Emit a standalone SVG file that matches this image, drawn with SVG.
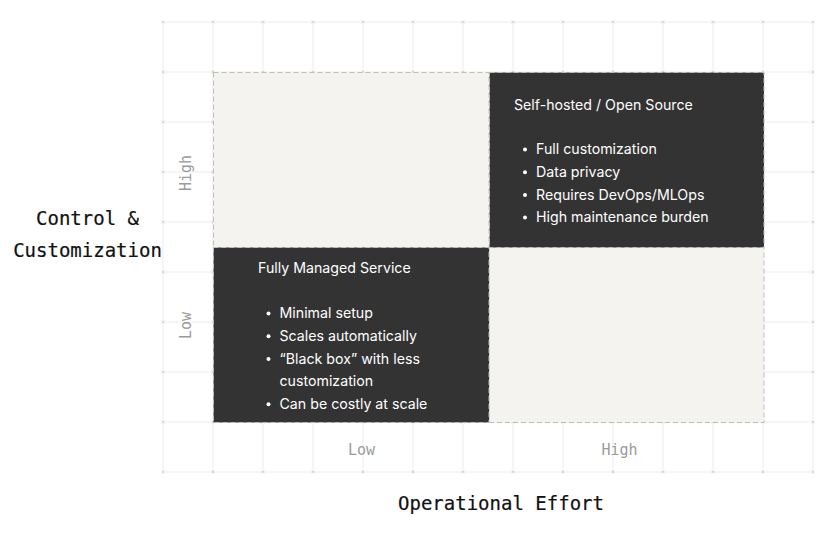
<svg xmlns="http://www.w3.org/2000/svg" width="826" height="542" viewBox="0 0 826 542">
<defs>
<style>
.grid line{stroke:#ececec;stroke-width:1}
.tick{stroke:#cccccc;stroke-width:0.7}
.light{fill:#f4f3ef;stroke:#bdbdbd;stroke-width:1;stroke-dasharray:5 3}
.dark{fill:#333333;stroke:#bdbdbd;stroke-width:1;stroke-dasharray:5 3}
.title{font-family:Inter,"Noto Sans",sans-serif;font-size:14.2px;fill:#ffffff}
.item{font-family:Inter,"Noto Sans",sans-serif;font-size:14.2px;fill:#ffffff}
.axis{font-family:"DejaVu Sans Mono","Liberation Mono",monospace;font-size:19px;fill:#111111;text-anchor:middle;stroke:#111111;stroke-width:0.2}
.lvl{font-family:"DejaVu Sans Mono","Liberation Mono",monospace;font-size:15px;fill:#9a9a9a;text-anchor:middle}
</style>
<g id="x"><path d="M-1.5,-1.5L1.5,1.5M-1.5,1.5L1.5,-1.5" class="tick"/></g>
</defs>
<rect width="826" height="542" fill="#ffffff"/>
<g class="grid">
<line x1="163" y1="22" x2="163" y2="472"/><line x1="213" y1="22" x2="213" y2="472"/>
<line x1="263" y1="22" x2="263" y2="472"/><line x1="313" y1="22" x2="313" y2="472"/>
<line x1="363" y1="22" x2="363" y2="472"/><line x1="413" y1="22" x2="413" y2="472"/>
<line x1="463" y1="22" x2="463" y2="472"/><line x1="513" y1="22" x2="513" y2="472"/>
<line x1="563" y1="22" x2="563" y2="472"/><line x1="613" y1="22" x2="613" y2="472"/>
<line x1="663" y1="22" x2="663" y2="472"/><line x1="713" y1="22" x2="713" y2="472"/>
<line x1="763" y1="22" x2="763" y2="472"/><line x1="813" y1="22" x2="813" y2="472"/>
<line x1="163" y1="22" x2="813" y2="22"/><line x1="163" y1="72" x2="813" y2="72"/>
<line x1="163" y1="122" x2="813" y2="122"/><line x1="163" y1="172" x2="813" y2="172"/>
<line x1="163" y1="222" x2="813" y2="222"/><line x1="163" y1="272" x2="813" y2="272"/>
<line x1="163" y1="322" x2="813" y2="322"/><line x1="163" y1="372" x2="813" y2="372"/>
<line x1="163" y1="422" x2="813" y2="422"/><line x1="163" y1="472" x2="813" y2="472"/>
</g>
<g id="ticks">
<use href="#x" x="163" y="22"/><use href="#x" x="213" y="22"/><use href="#x" x="263" y="22"/><use href="#x" x="313" y="22"/><use href="#x" x="363" y="22"/><use href="#x" x="413" y="22"/><use href="#x" x="463" y="22"/><use href="#x" x="513" y="22"/><use href="#x" x="563" y="22"/><use href="#x" x="613" y="22"/><use href="#x" x="663" y="22"/><use href="#x" x="713" y="22"/><use href="#x" x="763" y="22"/><use href="#x" x="813" y="22"/>
<use href="#x" x="163" y="72"/><use href="#x" x="163" y="122"/><use href="#x" x="163" y="172"/><use href="#x" x="163" y="222"/><use href="#x" x="163" y="272"/><use href="#x" x="163" y="322"/><use href="#x" x="163" y="372"/><use href="#x" x="163" y="422"/><use href="#x" x="163" y="472"/>
<use href="#x" x="813" y="72"/><use href="#x" x="813" y="122"/><use href="#x" x="813" y="172"/><use href="#x" x="813" y="222"/><use href="#x" x="813" y="272"/><use href="#x" x="813" y="322"/><use href="#x" x="813" y="372"/><use href="#x" x="813" y="422"/><use href="#x" x="813" y="472"/>
<use href="#x" x="213" y="472"/><use href="#x" x="263" y="472"/><use href="#x" x="313" y="472"/><use href="#x" x="363" y="472"/><use href="#x" x="413" y="472"/><use href="#x" x="463" y="472"/><use href="#x" x="513" y="472"/><use href="#x" x="563" y="472"/><use href="#x" x="613" y="472"/><use href="#x" x="663" y="472"/><use href="#x" x="713" y="472"/><use href="#x" x="763" y="472"/>
<use href="#x" x="213" y="72"/><use href="#x" x="263" y="72"/><use href="#x" x="313" y="72"/><use href="#x" x="363" y="72"/><use href="#x" x="413" y="72"/><use href="#x" x="463" y="72"/><use href="#x" x="513" y="72"/><use href="#x" x="563" y="72"/><use href="#x" x="613" y="72"/><use href="#x" x="663" y="72"/><use href="#x" x="713" y="72"/><use href="#x" x="763" y="72"/>
<use href="#x" x="213" y="122"/><use href="#x" x="213" y="172"/><use href="#x" x="213" y="222"/><use href="#x" x="213" y="272"/><use href="#x" x="213" y="322"/><use href="#x" x="213" y="372"/><use href="#x" x="213" y="422"/>
<use href="#x" x="763" y="122"/><use href="#x" x="763" y="172"/><use href="#x" x="763" y="222"/><use href="#x" x="763" y="272"/><use href="#x" x="763" y="322"/><use href="#x" x="763" y="372"/><use href="#x" x="763" y="422"/>
<use href="#x" x="263" y="422"/><use href="#x" x="313" y="422"/><use href="#x" x="363" y="422"/><use href="#x" x="413" y="422"/><use href="#x" x="463" y="422"/><use href="#x" x="513" y="422"/><use href="#x" x="563" y="422"/><use href="#x" x="613" y="422"/><use href="#x" x="663" y="422"/><use href="#x" x="713" y="422"/>
</g>
<g id="q-top-left"><rect class="light" x="213.5" y="72.5" width="275.5" height="175"/></g>
<g id="q-bottom-right"><rect class="light" x="489" y="247.5" width="275" height="175"/></g>
<g id="q-self-hosted">
<rect class="dark" x="489.5" y="72.5" width="274.5" height="175"/>
<text class="title" x="514" y="110">Self-hosted / Open Source</text>
<g fill="#ffffff"><circle cx="525" cy="149.5" r="2"/><circle cx="525" cy="172.2" r="2"/><circle cx="525" cy="194.9" r="2"/><circle cx="525" cy="217.6" r="2"/></g>
<text class="item" x="536" y="154.3">Full customization</text>
<text class="item" x="536" y="177">Data privacy</text>
<text class="item" x="536" y="199.7">Requires DevOps/MLOps</text>
<text class="item" x="536" y="222.4">High maintenance burden</text>
</g>
<g id="q-managed">
<rect class="dark" x="213.5" y="247.5" width="275.5" height="175"/>
<text class="title" x="258" y="273.3">Fully Managed Service</text>
<g fill="#ffffff"><circle cx="268.5" cy="313.5" r="2"/><circle cx="268.5" cy="336.2" r="2"/><circle cx="268.5" cy="358.9" r="2"/><circle cx="268.5" cy="404.3" r="2"/></g>
<text class="item" x="279.5" y="318.3">Minimal setup</text>
<text class="item" x="279.5" y="341">Scales automatically</text>
<text class="item" x="279.5" y="363.7">“Black box” with less</text>
<text class="item" x="279.5" y="386.4">customization</text>
<text class="item" x="279.5" y="409.1">Can be costly at scale</text>
</g>
<g id="axis-y">
<text class="axis" x="87.5" y="225">Control &amp;</text>
<text class="axis" x="87.5" y="256.7">Customization</text>
<text class="lvl" transform="translate(190.5,173) rotate(-90)">High</text>
<text class="lvl" transform="translate(190.5,325.5) rotate(-90)">Low</text>
</g>
<g id="axis-x">
<text class="axis" x="501" y="510">Operational Effort</text>
<text class="lvl" x="361.5" y="455">Low</text>
<text class="lvl" x="619.5" y="455">High</text>
</g>
</svg>
